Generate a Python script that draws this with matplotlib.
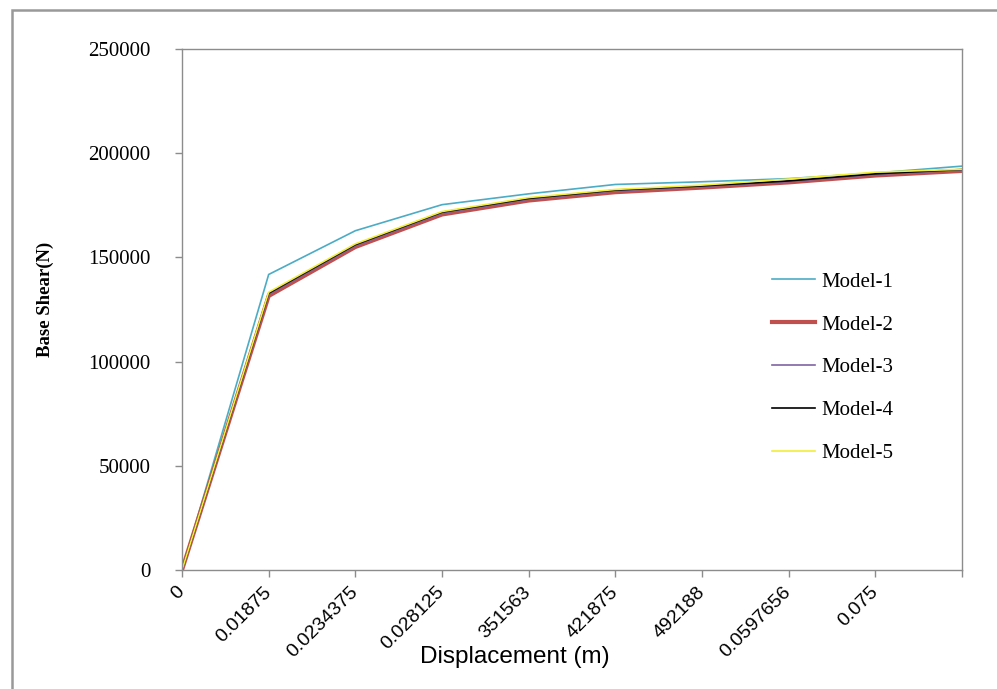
import matplotlib
matplotlib.use('Agg')
import matplotlib.pyplot as plt
from matplotlib.patches import Rectangle

# displacement categories as printed on the axis (Excel clipped some of them)
tick_labels = ["0", "0.01875", "0.0234375", "0.028125", "351563", "421875",
               "492188", "0.0597656", "0.075", ""]

# base shear (N)
model_1 = [0, 141800, 162800, 175300, 180500, 185000, 186300, 187800, 190500, 193800]
model_2 = [0, 131500, 155000, 170600, 177300, 181300, 183500, 186000, 189300, 191500]
model_3 = [0, 132300, 155600, 171200, 177900, 181900, 184000, 186400, 189800, 191900]
model_4 = [0, 132800, 156100, 171700, 178300, 182300, 184300, 186700, 190100, 192200]
model_5 = [0, 133300, 156500, 172000, 178700, 182600, 184700, 187600, 190900, 192300]

series = [("Model-1", model_1, "#4BACC6", 1.2),
          ("Model-2", model_2, "#C0504D", 3.0),
          ("Model-3", model_3, "#8064A2", 1.2),
          ("Model-4", model_4, "#000000", 1.2),
          ("Model-5", model_5, "#F2EE3A", 1.2)]

serif = ["Liberation Serif", "DejaVu Serif"]
sans = ["Liberation Sans", "DejaVu Sans"]
grey = "#8c8c8c"

fig = plt.figure(figsize=(9.97, 6.89), dpi=100)
ax = fig.add_axes([182 / 997, 119 / 689, 780 / 997, 521 / 689])

x = list(range(len(tick_labels)))
for name, vals, col, lw in series:
    ax.plot(x, vals, color=col, lw=lw, label=name, solid_joinstyle="miter")

ax.set_xlim(0, len(tick_labels) - 1)
ax.set_ylim(0, 250000)
ax.set_yticks(range(0, 250001, 50000))
ax.set_yticklabels([str(v) for v in range(0, 250001, 50000)],
                   family=serif, fontsize=15)
ax.set_xticks(x)
ax.set_xticklabels(tick_labels, family=sans, fontsize=14, rotation=45,
                   ha="right", va="center", rotation_mode="anchor")

for s in ax.spines.values():
    s.set_color(grey)
    s.set_linewidth(1.0)
ax.tick_params(axis="both", direction="out", length=5, color=grey, width=1.0)
ax.tick_params(axis="y", pad=17.5)
ax.tick_params(axis="x", pad=9)

ax.set_ylabel("Base Shear(N)", family=serif, fontsize=13.5, fontweight="bold",
              labelpad=0)
ax.yaxis.set_label_coords(-128 / 780, 0.52)
ax.set_xlabel("Displacement (m)", family=sans, fontsize=17.5)
ax.xaxis.set_label_coords(333 / 780, -76 / 521)

leg = ax.legend(loc="upper left", bbox_to_anchor=(590 / 780, 298 / 521),
                frameon=False, prop={"family": serif, "size": 15},
                handlelength=2.05, handletextpad=0.3, labelspacing=1.12,
                borderpad=0, borderaxespad=0)

# outer chart frame
fig.patches.append(Rectangle((12 / 997, -0.1), 1.2, (689 - 10) / 689 + 0.1,
                             transform=fig.transFigure, fill=False,
                             edgecolor="#999999", lw=1.8))

fig.savefig("out.png", dpi=100, facecolor="w")
